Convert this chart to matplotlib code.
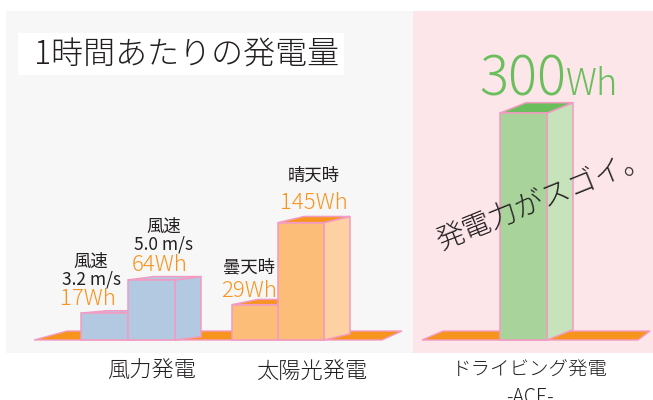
import matplotlib
matplotlib.use('Agg')
import matplotlib.pyplot as plt
from matplotlib.patches import Polygon, Rectangle

plt.rcParams['font.family'] = ['Noto Sans CJK JP', 'DejaVu Sans']
plt.rcParams['font.weight'] = 'light'

# ---- data ----
groups = ['風力発電', '太陽光発電', 'ドライビング発電\n-ACE-']
conditions = ['風速\n3.2 m/s', '風速\n5.0 m/s', '曇天時', '晴天時', '']
values = [17, 64, 29, 145, 300]
units = 'Wh'
title = '1時間あたりの発電量'
slogan = '発電力がスゴイ。'

# ---- layout (x in pixels, y in Wh) ----
W, H = 653, 400
FLOOR_PX = 340          # pixel row of the floor front edge
SCALE = 0.707           # pixels per Wh
BASE = -21              # Wh value at the floor (bars stand on the 3D floor)
DEPTH_X = 26

bar_left = [81, 128, 232, 278, 500]
bar_width = [47, 47, 46, 46, 47]
front_col = ['#b3c8e1', '#b3c8e1', '#fbbd78', '#fbbd78', '#a8d49c']
side_col = ['#b3c8e1', '#b3c8e1', '#fdd1a1', '#fdd1a1', '#c6e3bb']
top_col = ['#b3c8e1', '#b3c8e1', '#f7941e', '#f7941e', '#6abf5c']
EDGE = '#f39bc2'
ORANGE = '#f7941e'
GREEN = '#6abf5c'
INK = '#231f20'


def py(px):
    # pixel row -> Wh value on the y axis
    return BASE + (FLOOR_PX - px) / SCALE


fig = plt.figure(figsize=(W / 100, H / 100), dpi=100)
ax = fig.add_axes([0, 0, 1, 1])
ax.set_xlim(0, W)
ax.set_ylim(py(H), py(0))
ax.axis('off')

# background panels
ax.add_patch(Rectangle((6, py(353)), 407, py(11) - py(353), color='#f7f7f7', lw=0, zorder=0))
ax.add_patch(Rectangle((413, py(353)), 240, py(11) - py(353), color='#fce6ea', lw=0, zorder=0))

# title
ax.add_patch(Rectangle((18, py(75)), 326, py(33) - py(75), color='white', lw=0, zorder=1))
ax.text(34, py(55), title, fontsize=23, color=INK, ha='left', va='center', zorder=2)

# floors
for pts in ([(34, 340), (67, 331), (402, 331), (382, 340)],
            [(422, 340), (443, 331), (650, 331), (638, 340)]):
    ax.add_patch(Polygon([(x, py(y)) for x, y in pts], closed=True, fc=ORANGE,
                         ec=EDGE, lw=1.0, zorder=2))

# bars
for i, v in enumerate(values):
    x0 = bar_left[i]
    x1 = x0 + bar_width[i]
    dyv = 0.019 * x1 / SCALE
    z = 3 + i
    ax.add_patch(Polygon([(x1, BASE), (x1 + DEPTH_X, BASE + dyv), (x1 + DEPTH_X, v + dyv), (x1, v)],
                         closed=True, fc=side_col[i], ec=EDGE, lw=1.1, zorder=z))
    ax.add_patch(Polygon([(x0, v), (x0 + DEPTH_X, v + dyv), (x1 + DEPTH_X, v + dyv), (x1, v)],
                         closed=True, fc=top_col[i], ec=EDGE, lw=1.1, zorder=z))
    ax.add_patch(Rectangle((x0, BASE), bar_width[i], v - BASE, fc=front_col[i], ec=EDGE,
                           lw=1.1, zorder=z))

# value and condition labels
val_pos = [(88, 299), (160, 265), (249, 291), (314, 203)]
cond_pos = [(91, 271), (164, 236), (249, 267), (314, 176)]
for i in range(4):
    ax.text(val_pos[i][0], py(val_pos[i][1]), f'{values[i]}{units}', fontsize=16,
            color=ORANGE, ha='center', va='center', zorder=10)
    ax.text(cond_pos[i][0], py(cond_pos[i][1]), conditions[i], fontsize=12.5,
            color=INK, ha='center', va='center', linespacing=1.0, zorder=10,
            fontweight='normal')

# big label for the ACE bar
ax.text(566, py(95), f'{values[4]}', fontsize=39, color=GREEN, ha='right',
        va='baseline', zorder=10)
ax.text(566, py(95), units, fontsize=26, color=GREEN, ha='left', va='baseline', zorder=10)

# slogan
ax.text(543, py(199), slogan, fontsize=20.5, color=INK, rotation=22, ha='center',
        va='center', rotation_mode='anchor', zorder=10)

# category labels
ax.text(152, py(372), groups[0], fontsize=16, color=INK, ha='center', va='center')
ax.text(312, py(372), groups[1], fontsize=16, color=INK, ha='center', va='center')
ax.text(530, py(360), groups[2], fontsize=14, color=INK, ha='center', va='top',
        linespacing=1.35)

fig.savefig('out.png', dpi=100)
